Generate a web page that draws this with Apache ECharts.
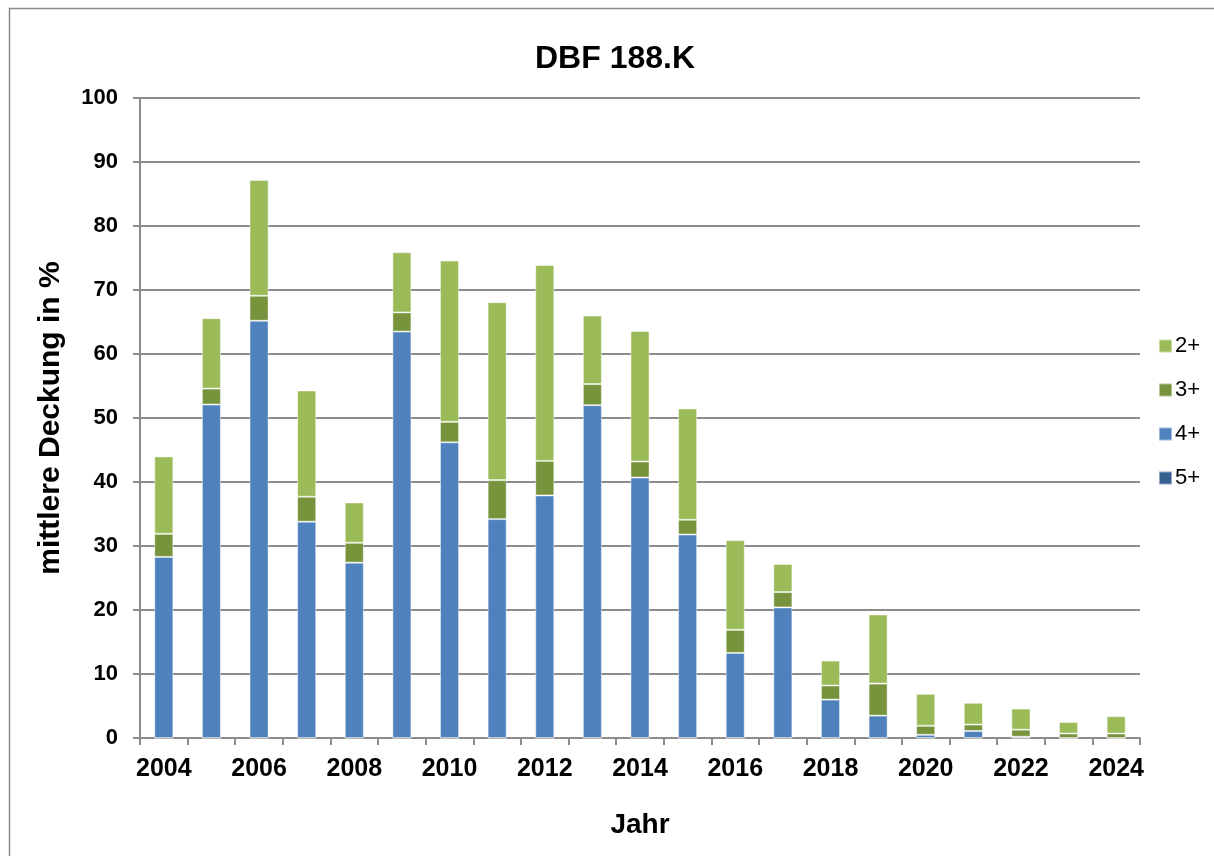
<!DOCTYPE html>
<html>
<head>
<meta charset="utf-8">
<script src="https://cdn.jsdelivr.net/npm/echarts@6/dist/echarts.min.js"></script>
<style>
html,body{margin:0;padding:0;background:#fff;}
#chart{width:1214px;height:856px;}
</style>
</head>
<body>
<div id="chart"></div>
<script>
const years = ['2004','2005','2006','2007','2008','2009','2010','2011','2012','2013','2014','2015','2016','2017','2018','2019','2020','2021','2022','2023','2024'];
const s5 = [0,0,0,0,0,0,0,0,0,0,0,0,0,0,0,0,0,0,0,0,0];
const s4 = [28.3,52.1,65.2,33.8,27.4,63.5,46.2,34.2,37.9,52.0,40.7,31.8,13.3,20.4,6.0,3.5,0.5,1.1,0.2,0,0];
const s3 = [3.6,2.5,3.9,3.9,3.1,3.0,3.2,6.1,5.4,3.3,2.5,2.3,3.6,2.4,2.2,5.0,1.4,1.0,1.1,0.7,0.7];
const s2 = [12.1,11.0,18.1,16.6,6.3,9.4,25.2,27.8,30.6,10.7,20.4,17.4,14.0,4.4,3.9,10.8,5.0,3.4,3.3,1.8,2.7];
const seriesNames = ['5+','4+','3+','2+'];
const colors = {'5+':'#376092','4+':'#4F81BD','3+':'#77933C','2+':'#9BBB59'};
const values = {'5+':s5,'4+':s4,'3+':s3,'2+':s2};

const FONT = '"Liberation Sans", Arial, sans-serif';
const chart = echarts.init(document.getElementById('chart'), null, {renderer:'canvas'});
chart.setOption({
  animation:false,
  backgroundColor:'#fff',
  title:{
    text:'DBF 188.K', left:530, top:38,
    textStyle:{fontFamily:FONT, fontSize:32, fontWeight:'bold', color:'#000'}
  },
  graphic:[{
    type:'rect', silent:true, z:-1,
    shape:{x:9.5, y:8.5, width:1400, height:1000},
    style:{fill:'none', stroke:'#8a8a8a', lineWidth:1.5}
  }],
  legend:{
    orient:'vertical', left:1153, top:330,
    data:['2+','3+','4+','5+'],
    itemWidth:13, itemHeight:13, itemGap:22, icon:'rect',
    textStyle:{fontFamily:FONT, fontSize:22, color:'#000', padding:[0,0,0,-2]}
  },
  grid:{left:140, right:74, top:98, bottom:118, containLabel:false},
  xAxis:{
    type:'category', data:years, boundaryGap:true,
    name:'Jahr', nameLocation:'middle', nameGap:73,
    nameTextStyle:{fontFamily:FONT, fontSize:28, fontWeight:'bold', color:'#000'},
    axisLine:{lineStyle:{color:'#8c8c8c', width:2}},
    axisTick:{show:true, interval:0, length:7, lineStyle:{color:'#8c8c8c', width:2}},
    axisLabel:{interval:1, margin:19, fontFamily:FONT, fontSize:25, fontWeight:'bold', color:'#000'}
  },
  yAxis:{
    type:'value', min:0, max:100, interval:10,
    name:'mittlere Deckung in %', nameLocation:'middle', nameGap:74, nameRotate:90,
    nameTextStyle:{fontFamily:FONT, fontSize:30, fontWeight:'bold', color:'#000'},
    axisLine:{show:true, lineStyle:{color:'#8c8c8c', width:2}},
    axisTick:{show:true, length:7, lineStyle:{color:'#8c8c8c', width:2}},
    axisLabel:{margin:22, fontFamily:FONT, fontSize:22, fontWeight:'bold', color:'#000'},
    splitLine:{show:true, lineStyle:{color:'#8c8c8c', width:2}}
  },
  series: seriesNames.map(n => ({
    name:n, type:'bar', stack:'total', barWidth:'40%',
    data: values[n],
    itemStyle:{color:colors[n], borderColor:'rgba(255,255,255,0.45)', borderWidth:1}
  }))
});
</script>
</body>
</html>
